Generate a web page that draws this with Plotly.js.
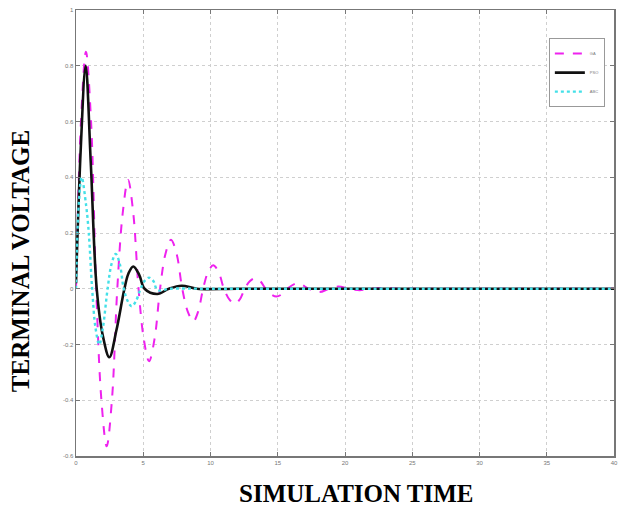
<!DOCTYPE html>
<html>
<head>
<meta charset="utf-8">
<script src="https://cdn.plot.ly/plotly-3.0.1.min.js"></script>
<style>
html,body{margin:0;padding:0;background:#fff;}
#chart{width:622px;height:511px;}
</style>
</head>
<body>
<div id="chart"></div>
<script>
// Series names (legend)
const seriesNames = ["GA", "PSO", "ABC"];

// Magenta dashed series
const tMagenta = [0, 0.37, 0.74, 1.12, 1.5, 1.89, 2.28, 2.67, 3.07, 3.47, 3.87, 4.26, 4.65, 5.04, 5.43, 5.84, 6.25, 6.65, 7.06, 7.48, 7.9, 8.31, 8.72, 9.08, 9.45, 9.82, 10.2, 10.6, 11.0, 11.4, 11.8, 12.18, 12.55, 12.92, 13.3, 13.7, 14.1, 14.5, 14.9, 15.3, 15.7, 16.5, 17.3, 18.1, 18.8, 19.5, 20.3, 21.1, 21.9, 22.7, 24, 26, 30, 35, 40];
const vMagenta = [0, 0.6, 0.85, 0.6, 0, -0.4, -0.565, -0.4, 0, 0.27, 0.39, 0.27, 0, -0.18, -0.26, -0.18, 0, 0.125, 0.176, 0.125, 0, -0.082, -0.117, -0.082, 0, 0.06, 0.084, 0.06, 0, -0.038, -0.054, -0.038, 0, 0.027, 0.038, 0.027, 0, -0.02, -0.028, -0.02, 0, 0.02, 0, -0.012, 0, 0.008, 0, -0.005, 0, 0.003, 0, 0, 0, 0, 0];

// Black solid series
const tBlack = [0, 0.35, 0.72, 1.1, 1.54, 2.0, 2.48, 3.0, 3.6, 3.9, 4.26, 4.7, 5.1, 6.05, 6.9, 7.86, 9, 12, 20, 30, 40];
const vBlack = [0.02, 0.5, 0.8, 0.45, 0, -0.17, -0.246, -0.15, 0, 0.055, 0.08, 0.05, 0, -0.019, 0, 0.011, 0, 0, 0, 0, 0];

// Cyan dotted series
const tCyan = [0, 0.2, 0.42, 0.75, 0.95, 1.2, 1.45, 1.73, 2.0, 2.35, 2.65, 2.95, 3.25, 3.55, 3.85, 4.14, 4.45, 4.8, 5.1, 5.43, 5.75, 6.07, 7, 10, 20, 40];
const vCyan = [0, 0.3, 0.4, 0.3, 0.2, 0, -0.14, -0.2, -0.14, 0, 0.09, 0.125, 0.09, 0, -0.045, -0.063, -0.045, 0, 0.028, 0.04, 0.028, -0.005, 0, 0, 0, 0];

// Axis ticks
const xTicks = [0, 5, 10, 15, 20, 25, 30, 35, 40];
const yTicks = [-0.6, -0.4, -0.2, 0, 0.2, 0.4, 0.6, 0.8, 1];

const traces = [
  {x: tMagenta, y: vMagenta, name: seriesNames[0], mode: "lines",
   line: {color: "#ee22ee", width: 2, dash: "dash", shape: "spline", smoothing: 1}},
  {x: tBlack, y: vBlack, name: seriesNames[1], mode: "lines",
   line: {color: "#111111", width: 2.6, shape: "spline", smoothing: 1}},
  {x: tCyan, y: vCyan, name: seriesNames[2], mode: "lines",
   line: {color: "#44e0e8", width: 2.4, dash: "dot", shape: "spline", smoothing: 1}}
];

const axisCommon = {
  showline: true, mirror: "ticks", linecolor: "#777", linewidth: 1.5,
  ticks: "inside", ticklen: 4, tickcolor: "#777",
  showgrid: true, gridcolor: "#cfcfcf", griddash: "dot", gridwidth: 1,
  zeroline: false,
  tickfont: {family: "Liberation Sans, Arial", size: 6, color: "#777"}
};

const layout = {
  width: 622, height: 511,
  margin: {l: 76, r: 8, t: 10, b: 55, autoexpand: false},
  paper_bgcolor: "#fff", plot_bgcolor: "#fff",
  showlegend: true,
  legend: {x: 0.983, y: 0.937, xanchor: "right", yanchor: "top",
           bordercolor: "#999", borderwidth: 1, bgcolor: "#fff",
           font: {family: "Liberation Sans, Arial", size: 4, color: "#777"},
           tracegroupgap: 0, itemwidth: 30},
  xaxis: Object.assign({}, axisCommon, {range: [0, 40], tickvals: xTicks, ticktext: xTicks.map(String)}),
  yaxis: Object.assign({}, axisCommon, {range: [-0.6, 1], tickvals: yTicks, ticktext: yTicks.map(v => String(v))}),
  annotations: [
    {text: "<b>SIMULATION TIME</b>", xref: "paper", yref: "paper",
     x: 0.522, y: -0.083, xanchor: "center", yanchor: "middle", showarrow: false,
     font: {family: "Liberation Serif, Times New Roman", size: 25, color: "#000"}},
    {text: "<b>TERMINAL VOLTAGE</b>", xref: "paper", yref: "paper",
     x: -0.104, y: 0.437, xanchor: "center", yanchor: "middle", showarrow: false, textangle: -90,
     font: {family: "Liberation Serif, Times New Roman", size: 25, color: "#000"}}
  ]
};

Plotly.newPlot("chart", traces, layout, {displayModeBar: false, staticPlot: true});
</script>
</body>
</html>
